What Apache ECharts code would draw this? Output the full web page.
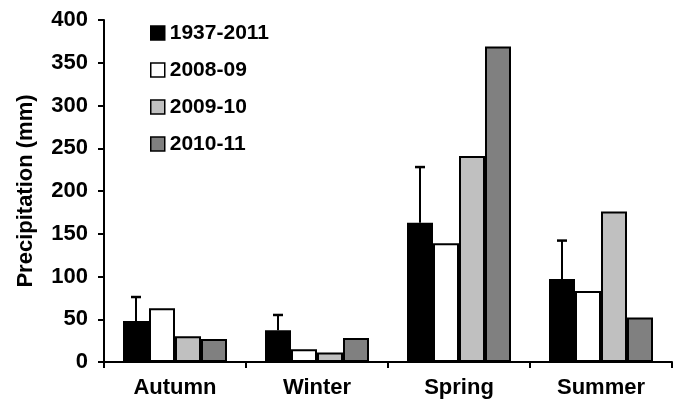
<!DOCTYPE html>
<html>
<head>
<meta charset="utf-8">
<script src="https://cdn.jsdelivr.net/npm/echarts@6/dist/echarts.min.js"></script>
<style>html,body{margin:0;padding:0;background:#fff}#c{width:679px;height:405px}</style>
</head>
<body>
<div id="c"></div>
<script>
var categories = ['Autumn', 'Winter', 'Spring', 'Summer'];
var seriesNames = ['1937-2011', '2008-09', '2009-10', '2010-11'];
var longTerm = [48, 37, 163, 97];
var longTermSD = [28, 18, 65, 45];
var y2008 = [63, 15, 139, 83];
var y2009 = [30, 11, 241, 176];
var y2010 = [27, 28, 369, 52];
var yTicks = [0, 50, 100, 150, 200, 250, 300, 350, 400];

var colors = ['#000000', '#ffffff', '#c0c0c0', '#808080'];
var values = [longTerm, y2008, y2009, y2010];
var FONT = 'Liberation Sans, Arial, sans-serif';
var BAR_W = 26;

var chart = echarts.init(document.getElementById('c'), null, {renderer: 'canvas'});
var series = values.map(function (v, i) {
  return {
    name: seriesNames[i],
    type: 'bar',
    data: v,
    barWidth: BAR_W,
    barGap: '0%',
    itemStyle: {color: colors[i], borderColor: '#000', borderWidth: 2},
    z: 2
  };
});
series.push({
  type: 'custom',
  name: 'sd',
  z: 3,
  data: longTerm.map(function (v, i) { return [i, v, v + longTermSD[i]]; }),
  renderItem: function (params, api) {
    var base = api.coord([api.value(0), api.value(1)]);
    var top = api.coord([api.value(0), api.value(2)]);
    var x = base[0] - 1.5 * BAR_W;
    return {
      type: 'group',
      children: [
        {type: 'line', shape: {x1: x, y1: base[1], x2: x, y2: top[1]}, style: {stroke: '#000', lineWidth: 2}},
        {type: 'line', shape: {x1: x - 5, y1: top[1], x2: x + 5, y2: top[1]}, style: {stroke: '#000', lineWidth: 2.5}}
      ]
    };
  }
});

chart.setOption({
  animation: false,
  backgroundColor: '#fff',
  grid: {left: 104, right: 7, top: 20, bottom: 43, containLabel: false},
  legend: {
    data: seriesNames,
    orient: 'vertical',
    left: 145,
    top: 17,
    itemWidth: 14,
    itemHeight: 14,
    itemGap: 15,
    icon: 'rect',
    textStyle: {fontFamily: FONT, fontWeight: 'bold', fontSize: 21, lineHeight: 22, color: '#000'},
    itemStyle: {borderColor: '#000', borderWidth: 1.5}
  },
  xAxis: {
    type: 'category',
    data: categories,
    axisLine: {lineStyle: {color: '#000', width: 2}},
    axisTick: {show: true, length: 6, lineStyle: {color: '#000', width: 2}},
    axisLabel: {fontFamily: FONT, fontWeight: 'bold', fontSize: 22, color: '#000', margin: 15}
  },
  yAxis: {
    type: 'value',
    min: yTicks[0],
    max: yTicks[yTicks.length - 1],
    interval: 50,
    name: 'Precipitation (mm)',
    nameLocation: 'middle',
    nameGap: 67,
    nameTextStyle: {fontFamily: FONT, fontWeight: 'bold', fontSize: 22, color: '#000'},
    splitLine: {show: false},
    axisLine: {show: true, lineStyle: {color: '#000', width: 2}},
    axisTick: {show: true, length: 6, lineStyle: {color: '#000', width: 2}},
    axisLabel: {fontFamily: FONT, fontWeight: 'bold', fontSize: 22, color: '#000', margin: 16}
  },
  series: series
});
</script>
</body>
</html>
